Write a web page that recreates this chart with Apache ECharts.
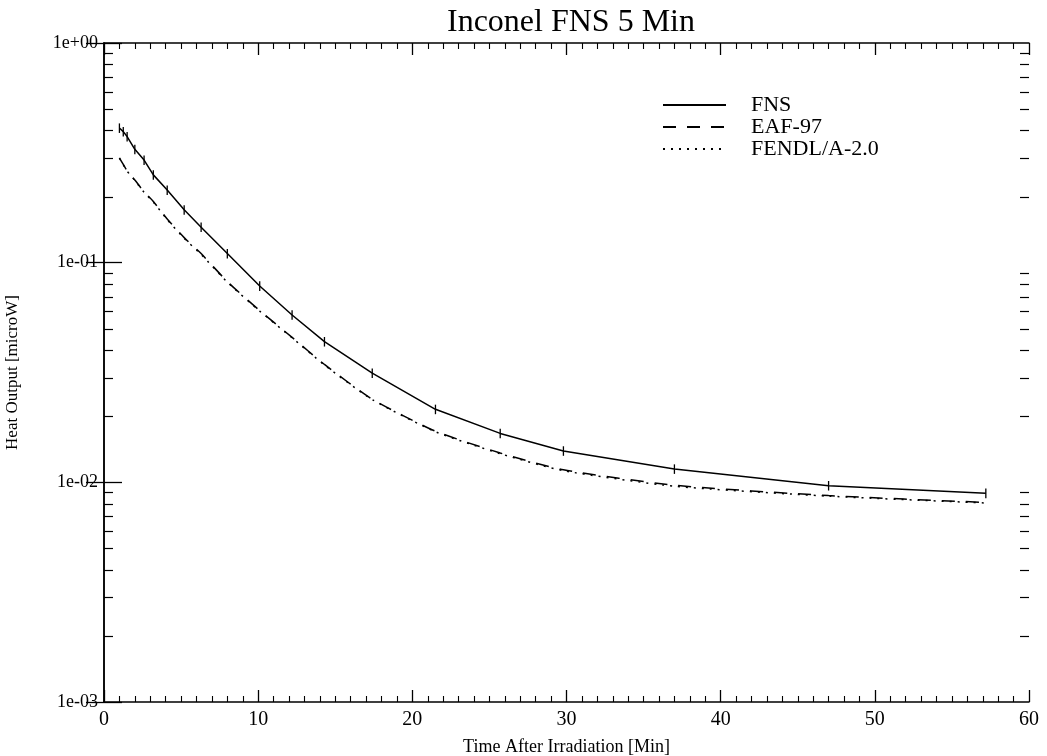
<!DOCTYPE html>
<html><head><meta charset="utf-8">
<script src="https://cdn.jsdelivr.net/npm/echarts@6/dist/echarts.min.js"></script>
<style>html,body{margin:0;padding:0;background:#fff}#c{width:1047px;height:756px}</style>
</head><body><div id="c"></div>
<script>
// ---- data ----
const times = [1.0, 1.25, 1.5, 2.0, 2.6, 3.2, 4.1, 5.2, 6.3, 8.0, 10.1, 12.2, 14.3, 17.4, 21.5, 25.7, 29.8, 37.0, 47.0, 57.2];
const fns   = [0.410, 0.395, 0.375, 0.328, 0.293, 0.251, 0.214, 0.174, 0.145, 0.110, 0.0783, 0.0578, 0.0437, 0.0314, 0.0215, 0.0167, 0.0139, 0.0115, 0.00966, 0.00892];
const fnsErr = [0.05, 0.05, 0.05, 0.05, 0.05, 0.05, 0.05, 0.05, 0.05, 0.05, 0.05, 0.05, 0.05, 0.05, 0.05, 0.05, 0.05, 0.05, 0.05, 0.05];
const eaf97 = [0.300, 0.280, 0.262, 0.238, 0.210, 0.190, 0.158, 0.130, 0.110, 0.082, 0.0605, 0.0457, 0.0344, 0.0239, 0.0171, 0.0136, 0.0114, 0.0097, 0.0087, 0.0081];
const fendl = [0.299, 0.279, 0.261, 0.237, 0.209, 0.189, 0.157, 0.129, 0.109, 0.0815, 0.0602, 0.0455, 0.0342, 0.0238, 0.0170, 0.0135, 0.0113, 0.0096, 0.00865, 0.00805];
const seriesNames = ['FNS', 'EAF-97', 'FENDL/A-2.0'];
const titleText = 'Inconel FNS 5 Min';
const xName = 'Time After Irradiation [Min]';
const yName = 'Heat Output [microW]';

const FONT = '"Liberation Serif", "DejaVu Serif", serif';
const chart = echarts.init(document.getElementById('c'), null, {renderer: 'canvas'});

const pair = (xs, ys) => xs.map((x, i) => [x, ys[i]]);
const errData = times.map((t, i) => [t, fns[i] * (1 - fnsErr[i]), fns[i] * (1 + fnsErr[i])]);

function yFmt(v) {
  const e = Math.round(Math.log10(v));
  const s = e >= 0 ? '+' : '-';
  const a = Math.abs(e);
  return '1e' + s + (a < 10 ? '0' + a : '' + a);
}

const axisLine = {show: true, lineStyle: {color: '#000', width: 1.5}};
const xCommon = {
  type: 'value', min: 0, max: 60, interval: 10,
  axisLine: axisLine,
  axisTick: {show: true, inside: true, length: 12, lineStyle: {color: '#000', width: 1.3}},
  minorTick: {show: true, splitNumber: 10, length: 6, lineStyle: {color: '#000', width: 1.1}},
  splitLine: {show: false}, minorSplitLine: {show: false}
};
const yCommon = {
  type: 'log', logBase: 10, min: 0.001, max: 1,
  axisLine: axisLine,
  axisTick: {show: true, inside: true, length: 18, lineStyle: {color: '#000', width: 1.3}},
  minorTick: {show: false},
  splitLine: {show: false}
};

chart.setOption({
  animation: false,
  backgroundColor: '#fff',
  title: {
    text: titleText, left: 566, top: 2, textAlign: 'center',
    textStyle: {fontFamily: FONT, fontSize: 32, fontWeight: 'normal', color: '#000'}
  },
  legend: {
    data: seriesNames, orient: 'vertical', left: 657, top: 89,
    itemWidth: 63, itemHeight: 14, itemGap: 0,
    itemStyle: {opacity: 0},
    textStyle: {fontFamily: FONT, fontSize: 22, color: '#000', padding: [0, 0, 0, 20], lineHeight: 21}
  },
  grid: {left: 104, right: 18, top: 43, bottom: 54, containLabel: false, outerBoundsMode: 'none'},
  xAxis: [
    Object.assign({}, xCommon, {
      position: 'bottom',
      name: xName, nameLocation: 'middle', nameGap: 36,
      nameTextStyle: {fontFamily: FONT, fontSize: 18, color: '#000'},
      axisLabel: {show: true, fontFamily: FONT, fontSize: 20, color: '#000', margin: 8}
    }),
    Object.assign({}, xCommon, {position: 'top', axisLabel: {show: false}})
  ],
  yAxis: [
    Object.assign({}, yCommon, {
      position: 'left',
      name: yName, nameLocation: 'middle', nameGap: 83, nameRotate: 90,
      nameTextStyle: {fontFamily: FONT, fontSize: 17, color: '#000'},
      axisLabel: {show: true, fontFamily: FONT, fontSize: 18, color: '#000', margin: 6, formatter: yFmt}
    }),
    Object.assign({}, yCommon, {position: 'right', axisLabel: {show: false}})
  ],
  series: [
    {
      name: seriesNames[0], type: 'line', data: pair(times, fns), symbol: 'none',
      lineStyle: {color: '#000', width: 1.5, type: 'solid'}, itemStyle: {color: '#000'}
    },
    {
      name: seriesNames[1], type: 'line', data: pair(times, eaf97), symbol: 'none', smooth: 0.2,
      lineStyle: {color: '#000', width: 1.5, type: [13, 11]}, itemStyle: {color: '#000'}
    },
    {
      name: seriesNames[2], type: 'line', data: pair(times, fendl), symbol: 'none', smooth: 0.2,
      lineStyle: {color: '#000', width: 1.5, type: [2, 6]}, itemStyle: {color: '#000'}
    },
    {
      name: 'FNS error', type: 'custom', data: errData,
      encode: {x: 0, y: [1, 2]},
      renderItem: function (params, api) {
        const p1 = api.coord([api.value(0), api.value(1)]);
        const p2 = api.coord([api.value(0), api.value(2)]);
        return {type: 'line', shape: {x1: p1[0], y1: p1[1], x2: p2[0], y2: p2[1]},
                style: {stroke: '#000', lineWidth: 1.3}};
      },
      z: 3
    }
  ]
});

// logarithmic minor ticks (2..9 per decade) on both y axes, placed through the axis scale
const minorVals = [];
for (let k = -3; k < 0; k++) for (let m = 2; m <= 9; m++) minorVals.push(m * Math.pow(10, k));
const xL = chart.convertToPixel({xAxisIndex: 0}, 0);
const xR = chart.convertToPixel({xAxisIndex: 0}, 60);
const g = [];
minorVals.forEach(v => {
  const y = Math.round(chart.convertToPixel({yAxisIndex: 0}, v)) + 0.5;
  g.push({type: 'line', shape: {x1: xL, y1: y, x2: xL + 9, y2: y}, style: {stroke: '#000', lineWidth: 1.2}});
  g.push({type: 'line', shape: {x1: xR - 9, y1: y, x2: xR, y2: y}, style: {stroke: '#000', lineWidth: 1.2}});
});
chart.setOption({graphic: g});
</script>
</body></html>
